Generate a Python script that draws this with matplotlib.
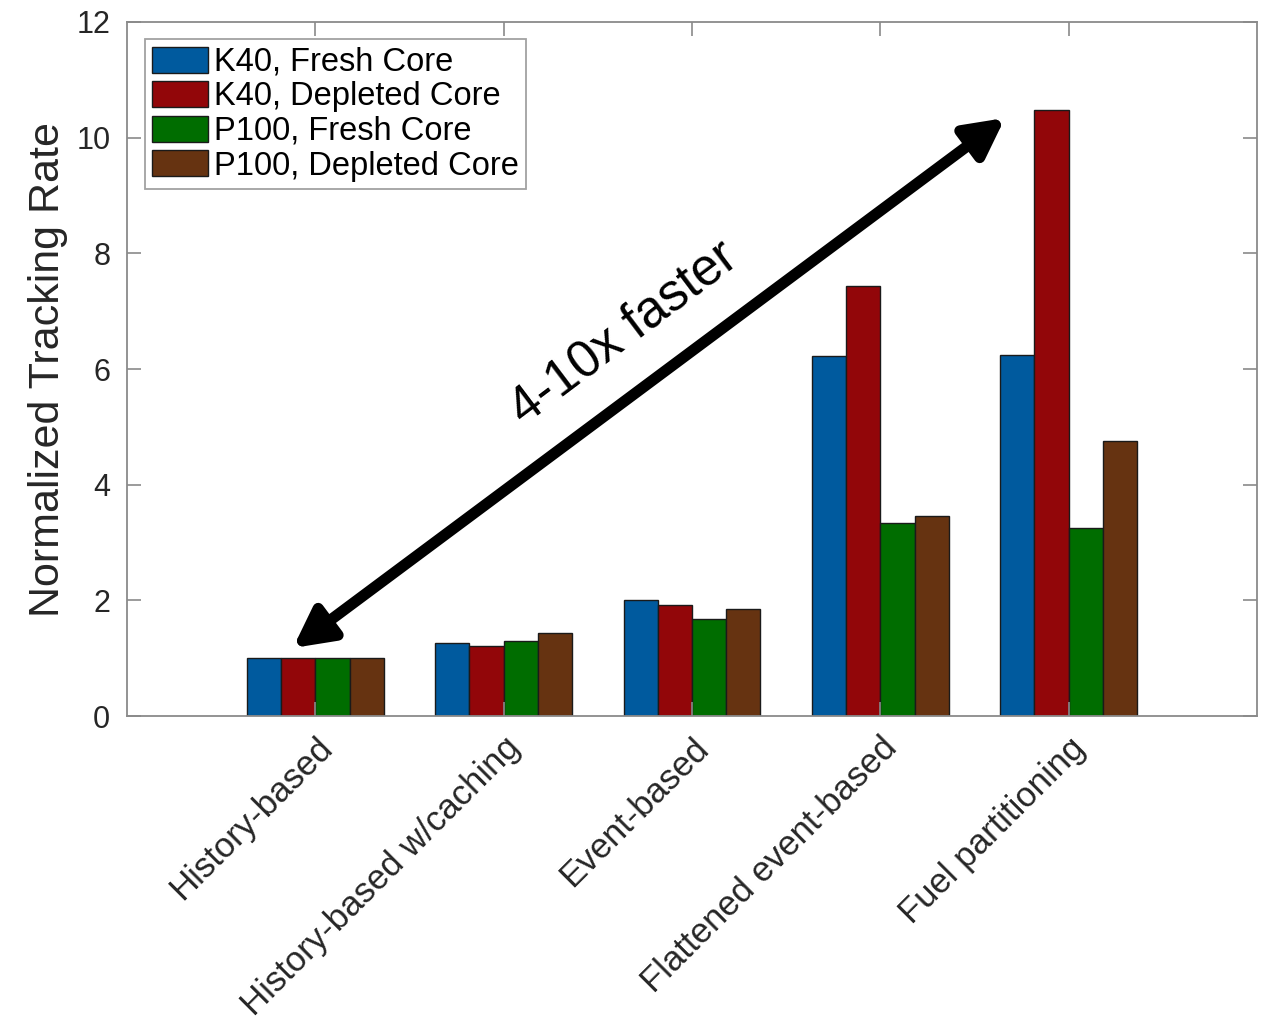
import matplotlib

matplotlib.use("Agg")
import matplotlib.pyplot as plt
import numpy as np

categories = [
    "History-based",
    "History-based w/caching",
    "Event-based",
    "Flattened event-based",
    "Fuel partitioning",
]
series_names = [
    "K40, Fresh Core",
    "K40, Depleted Core",
    "P100, Fresh Core",
    "P100, Depleted Core",
]
k40_fresh = [1.0, 1.26, 2.00, 6.22, 6.24]
k40_depleted = [1.0, 1.21, 1.92, 7.43, 10.48]
p100_fresh = [1.0, 1.30, 1.67, 3.34, 3.25]
p100_depleted = [1.0, 1.44, 1.85, 3.46, 4.75]
series_values = [k40_fresh, k40_depleted, p100_fresh, p100_depleted]
colors = ["#005a9e", "#920609", "#006d00", "#663311"]

plt.rcParams.update(
    {
        "font.family": ["Liberation Sans", "DejaVu Sans"],
        "axes.edgecolor": "#8a8a8a",
        "axes.linewidth": 1.3,
        "xtick.color": "#8a8a8a",
        "ytick.color": "#8a8a8a",
        "xtick.labelcolor": "#262626",
        "ytick.labelcolor": "#262626",
    }
)

fig = plt.figure(figsize=(12.66, 10.27), dpi=100)
ax = fig.add_axes([0.1003, 0.3028, 0.8926, 0.6758])

x = np.arange(1, len(categories) + 1)
group_width = 4 / 5.5
bar_w = group_width / len(series_values)
for i, (vals, name, col) in enumerate(zip(series_values, series_names, colors)):
    offset = -group_width / 2 + bar_w * (i + 0.5)
    ax.bar(x + offset, vals, width=bar_w, color=col, edgecolor="#1a1a1a",
           linewidth=1.0, label=name)

ax.set_xlim(0, 6)
ax.set_ylim(0, 12)
ax.set_yticks(np.arange(0, 13, 2))
ax.set_xticks(x)
ax.set_xticklabels(categories, rotation=45, ha="right", rotation_mode="anchor",
                   fontsize=25)
ax.tick_params(axis="y", labelsize=22, pad=12)
ax.tick_params(axis="x", pad=11)
ax.tick_params(direction="in", length=10, width=1.2, top=True, right=True)
ax.set_ylabel("Normalized Tracking Rate", fontsize=31, color="#262626", labelpad=6)

leg = ax.legend(loc="upper left", bbox_to_anchor=(0.016, 0.975), fontsize=23.5,
                frameon=True, fancybox=False, handlelength=1.7, handleheight=0.85,
                handletextpad=0.2, labelspacing=0.1, borderpad=0.22,
                borderaxespad=0.0)
leg.get_frame().set_edgecolor("#8a8a8a")
leg.get_frame().set_linewidth(1.3)

# double-headed arrow and label
ax.annotate("", xy=(0.881, 1.176), xytext=(4.662, 10.34),
            arrowprops=dict(arrowstyle="<|-|>,head_length=2.3,head_width=1.2",
                            color="black", lw=8, shrinkA=0, shrinkB=0))
ax.text(2.64, 6.62, "4-10x faster", rotation=37, rotation_mode="anchor",
        ha="center", va="center", fontsize=37, color="black")

fig.savefig("out.png", dpi=100)
